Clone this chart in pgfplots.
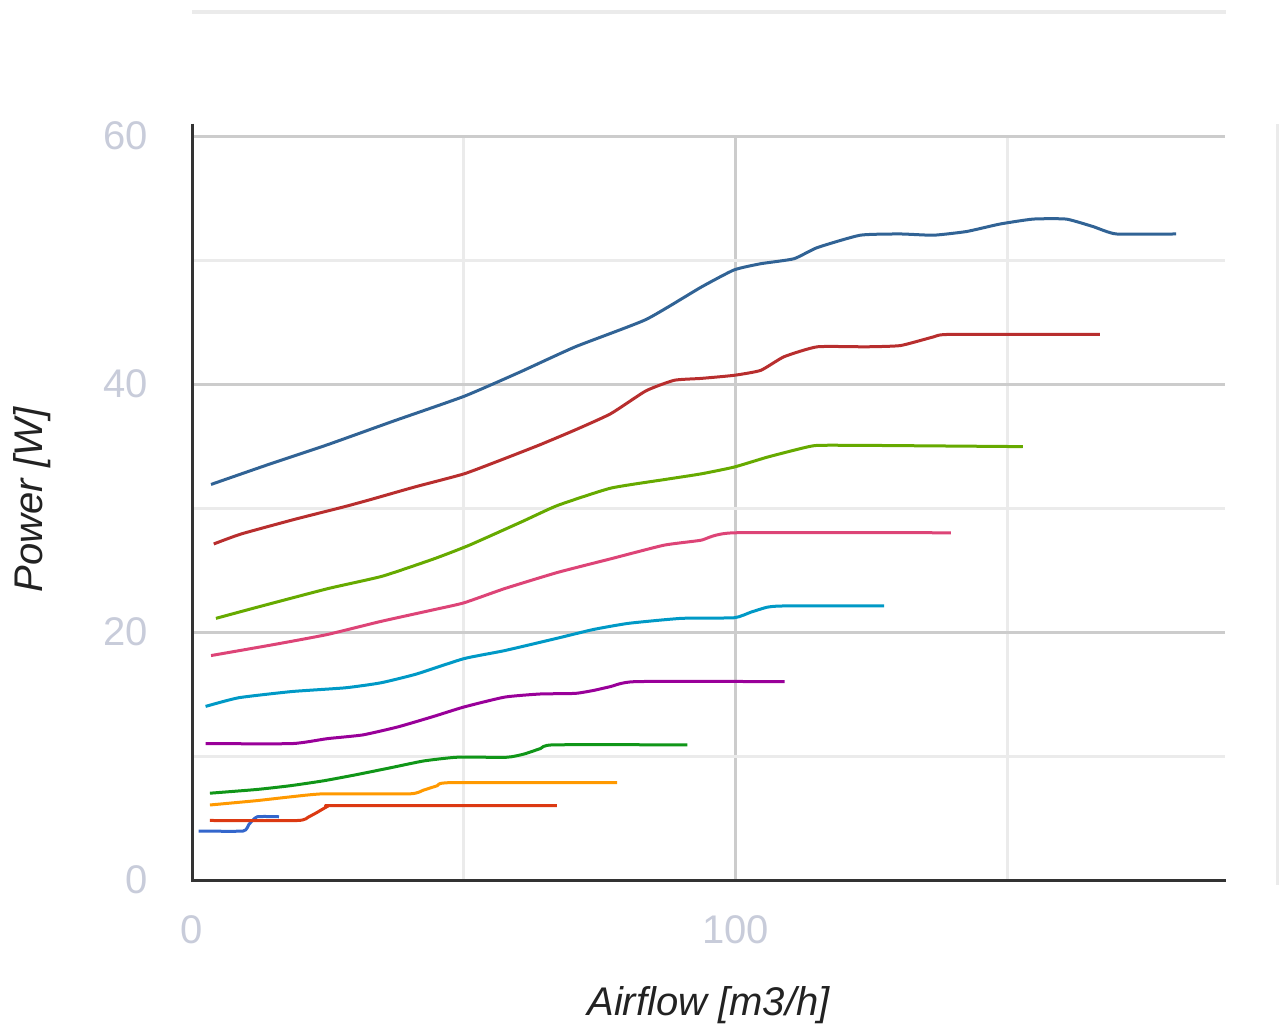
\documentclass[border=0pt]{standalone}
\usepackage{fontspec}
\setmainfont{Liberation Sans}
\usepackage{pgfplots}
\pgfplotsset{compat=1.18}

\definecolor{axisc}{HTML}{333333}
\definecolor{gmaj}{HTML}{CCCCCC}
\definecolor{gmin}{HTML}{EBEBEB}
\definecolor{tickc}{HTML}{C8CCDA}
\definecolor{labc}{HTML}{222222}
\definecolor{c1}{HTML}{3366CC}
\definecolor{c2}{HTML}{DC3912}
\definecolor{c3}{HTML}{FF9900}
\definecolor{c4}{HTML}{109618}
\definecolor{c5}{HTML}{990099}
\definecolor{c6}{HTML}{0099C6}
\definecolor{c7}{HTML}{DD4477}
\definecolor{c8}{HTML}{66AA00}
\definecolor{c9}{HTML}{B82E2E}
\definecolor{c10}{HTML}{316395}

\begin{document}
\begin{tikzpicture}
  % page = 1279 x 1035 px at 0.5pt per px
  \path[use as bounding box] (0,0) rectangle (639.5pt,517.5pt);
  \begin{axis}[
      at={(96pt,77.5pt)}, anchor=south west,
      scale only axis,
      width=516.5pt, height=372pt,
      xmin=0, xmax=190, ymin=0, ymax=60,
      clip=false,
      axis line style={draw=none},
      xtick={0,100}, minor xtick={50,150},
      ytick={0,20,40,60}, minor ytick={10,30,50},
      major tick length=0pt, minor tick length=0pt,
      grid=both,
      major grid style={gmaj, line width=1.5pt},
      minor grid style={gmin, line width=1.5pt},
      /pgf/number format/assume math mode=true,
      tick label style={tickc, font=\fontsize{20}{24}\selectfont, inner sep=0pt},
      yticklabel style={anchor=east},
      yticklabel shift=22pt,
      xticklabel style={anchor=north},
      xticklabel shift=17.5pt,
      xlabel={Airflow [m3/h]},
      ylabel={Power [W]},
      label style={labc, font=\fontsize{20}{24}\selectfont\itshape},
      xlabel style={at={(axis description cs:0.5,-0.168)}, anchor=center},
      ylabel style={at={(axis description cs:-0.155,0.511)}, anchor=center, rotate=0},
      every axis plot/.append style={line width=1.5pt, line join=round, mark=none, smooth, tension=0.3},
    ]
    % frame decorations of the screenshot
    \draw[gmin, line width=2pt] (axis cs:0,70) -- (axis cs:190.2,70);
    \draw[gmin, line width=2pt] (axis cs:199.8,61) -- (axis cs:199.8,-0.4);

    \addplot[c1] coordinates {(1.2,3.95) (9.4,3.95) (10.5,4.5) (12,5.1) (16,5.1)};
    \addplot[c2] coordinates {(3.3,4.8) (19.5,4.8) (21.5,5.1) (23,5.45) (25,5.95) (26.5,6.0) (67.1,6.0)};
    \addplot[c3] coordinates {(3.3,6.05) (11.9,6.4) (18,6.7) (24.2,6.95) (40.1,6.95) (42.6,7.25) (45.1,7.6) (47.5,7.85) (78.2,7.85)};
    \addplot[c4] coordinates {(3.3,7.0) (11.9,7.3) (18,7.6) (24.2,8.0) (30.3,8.5) (36.5,9.05) (42.6,9.6) (48.7,9.9) (57.9,9.9) (61,10.15) (64.1,10.6) (66.5,10.9) (91.1,10.9)};
    \addplot[c5] coordinates {(2.5,11.0) (18.4,11.0) (24.9,11.4) (31.4,11.7) (37.9,12.35) (44.5,13.2) (50,13.95) (57.5,14.75) (64,15.0) (70.5,15.05) (74,15.3) (77,15.6) (81.6,16.0) (109,16.0)};
    \addplot[c6] coordinates {(2.5,14.0) (8.6,14.7) (18.4,15.2) (28.2,15.5) (34.7,15.9) (41.2,16.6) (50,17.85) (57.5,18.5) (67.2,19.5) (73.8,20.2) (80.3,20.7) (90,21.1) (99.7,21.15) (102.8,21.6) (105.8,22.0) (108.9,22.1) (127.3,22.1)};
    \addplot[c7] coordinates {(3.5,18.1) (15.2,19.0) (24.9,19.8) (34.7,20.85) (44.5,21.8) (50,22.35) (57.5,23.5) (67.2,24.8) (77,25.9) (86.8,27.0) (93.6,27.4) (99.7,28.0) (139.6,28.0)};
    \addplot[c8] coordinates {(4.4,21.1) (12,22.0) (25,23.5) (35,24.5) (44.5,25.9) (51,27.0) (60.7,28.9) (67.2,30.2) (77,31.6) (87,32.3) (93.6,32.75) (99.7,33.3) (105.8,34.1) (112,34.8) (115,35.05) (124,35.05) (152.8,34.95)};
    \addplot[c9] coordinates {(4,27.1) (9,27.9) (19,29.1) (28,30.1) (33,30.7) (41,31.7) (50,32.75) (57,33.9) (64,35.1) (70.5,36.3) (77,37.6) (83.5,39.45) (88.7,40.3) (93.6,40.45) (99.7,40.7) (104.6,41.1) (108.9,42.2) (115,43.0) (124,43.0) (130.3,43.1) (136.4,43.8) (139.4,44.0) (167,44.0)};
    \addplot[c10] coordinates {(3.5,31.9) (14,33.5) (24.9,35.1) (37,37.0) (50,39.0) (60,40.9) (70.5,43.0) (83.5,45.2) (93.6,47.8) (99.7,49.2) (104.6,49.7) (110.7,50.1) (115,51.0) (122.9,52.0) (130.3,52.1) (136.4,52.0) (142.5,52.3) (148.6,52.9) (154.7,53.3) (160.8,53.3) (165.7,52.7) (170,52.1) (181,52.1)};

    % axis lines (left one runs a little above the top grid line)
    \draw[axisc, line width=1.5pt] (axis cs:0,61) -- (axis cs:0,0) -- (axis cs:190.2,0);
  \end{axis}
\end{tikzpicture}
\end{document}
